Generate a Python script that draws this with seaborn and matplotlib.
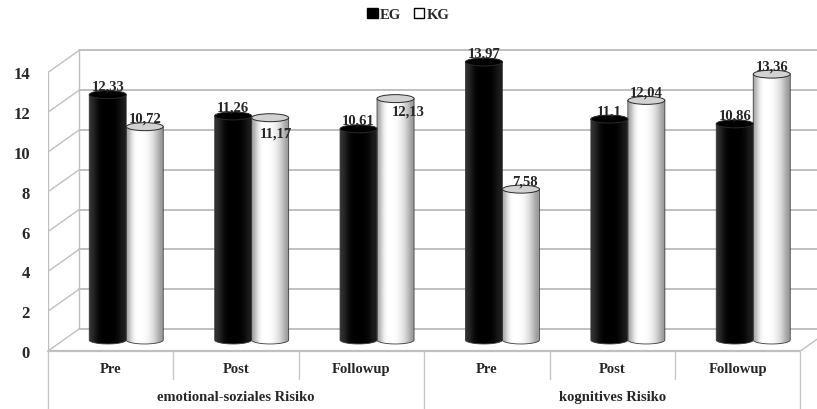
import numpy as np
import pandas as pd
import seaborn as sns
import matplotlib.pyplot as plt
from matplotlib.path import Path
from matplotlib.patches import PathPatch, Ellipse, Patch

sns.set_style("white")
plt.rcParams["font.family"] = ["Liberation Serif", "DejaVu Serif"]
plt.rcParams["font.weight"] = "bold"

# data
groups = ["emotional-soziales Risiko", "kognitives Risiko"]
phases = ["Pre", "Post", "Followup"]
eg = [12.33, 11.26, 10.61, 13.97, 11.1, 10.86]
kg = [10.72, 11.17, 12.13, 7.58, 12.04, 13.36]
yticks = [0, 2, 4, 6, 8, 10, 12, 14]

cats = [g + "|" + p for g in groups for p in phases]
df = pd.DataFrame({
    "cat": cats * 2,
    "val": eg + kg,
    "grp": ["EG"] * 6 + ["KG"] * 6,
})

# a few value labels sit off-centre in the original (points)
nudge = {7: (4, -17), 8: (9, -15), 9: (3, 0)}

fig = plt.figure(figsize=(8.17, 4.10), dpi=100)
ax = fig.add_axes([48 / 817, 58 / 410, 769 / 817, 312 / 410])

sns.barplot(data=df, x="cat", y="val", hue="grp", order=cats,
            palette={"EG": "black", "KG": "white"}, width=0.59, gap=0,
            legend=False, ax=ax)

# pseudo 3d depth (data units)
dx, dy = 0.124, 0.553
e = 0.2  # half height of the cylinder caps
wall = "#c0c0c0"

grad_eg = np.array([[0.2, 0.05, 0.0, 0.0, 0.0, 0.03, 0.12]])
grad_kg = np.array([[0.65, 0.92, 1.0, 1.0, 0.99, 0.95, 0.88, 0.76, 0.6]])

bars = [p for p in ax.patches if p.get_height() > 0]
for i, p in enumerate(bars):
    x, w, h = p.get_x(), p.get_width(), p.get_height()
    cx = x + w / 2
    black = p.get_facecolor()[0] < 0.5
    p.set_visible(False)
    t = np.linspace(np.pi, 2 * np.pi, 40)
    verts = [(x, h), (x, 0)] + list(zip(cx + w / 2 * np.cos(t), e * np.sin(t))) + [(x + w, h), (x, h)]
    body = Path(verts, closed=True)
    outline = PathPatch(body, facecolor="none", edgecolor="#3a3a3a", lw=0.6, zorder=4)
    ax.add_patch(outline)
    im = ax.imshow(grad_eg if black else grad_kg, extent=[x, x + w, -e, h],
                   aspect="auto", cmap="gray", vmin=0, vmax=1, zorder=3,
                   interpolation="bicubic")
    im.set_clip_path(outline)
    cap = Ellipse((cx, h), w, 2 * e, facecolor="black" if black else "#d2d2d2",
                  edgecolor="#2a2a2a", lw=0.7, zorder=5)
    ax.add_patch(cap)
    lab = ("%g" % h).replace(".", ",")
    ax.annotate(lab, (cx, h + e * 0.5), xytext=nudge.get(i, (0, 0)),
                textcoords="offset points", ha="center", va="bottom",
                fontsize=10.5, fontweight="bold", zorder=6)

# walls and floor
n = len(cats)
fl, fr = -0.5 - dx, n - 0.5 - dx
bl, br = -0.5 + dx, n - 0.5 + dx
for v in yticks:
    ax.plot([bl, br], [v + dy, v + dy], color=wall, lw=1.4, zorder=1)
    ax.plot([fl, bl], [v - dy, v + dy], color=wall, lw=1.0, zorder=1)
ax.plot([fl, fl], [-dy, yticks[-1] - dy], color=wall, lw=1.0, zorder=1)
ax.plot([bl, bl], [dy, yticks[-1] + dy], color=wall, lw=1.0, zorder=1)
ax.plot([fl, fr], [-dy, -dy], color=wall, lw=1.6, zorder=1, clip_on=False)
ax.plot([fr, br], [-dy, dy], color=wall, lw=1.0, zorder=1)

# category table below the floor
for k in range(n + 1):
    bottom = -3.6 if k % 3 == 0 else -1.96
    ax.plot([fl + k, fl + k], [-dy, bottom], color="#c8c8c8", lw=1.0, clip_on=False)
for k, c in enumerate(cats):
    ax.text(k - dx, -1.45, c.split("|")[1], ha="center", va="center",
            fontsize=10.5, fontweight="bold")
for j, g in enumerate(groups):
    ax.text(3 * j + 1 - dx, -2.86, g, ha="center", va="center",
            fontsize=10.5, fontweight="bold")

ax.set_xlim(fl, fl + 769 / 125.4)
ax.set_ylim(-dy, -dy + 312 / 19.9)
ax.set_yticks([v - dy for v in yticks])
ax.set_yticklabels([str(v) for v in yticks], fontsize=12, fontweight="bold")
ax.set_xticks([])
ax.tick_params(axis="y", length=0, pad=13)
ax.set_xlabel("")
ax.set_ylabel("")
for s in ax.spines.values():
    s.set_visible(False)
ax.grid(False)

fig.legend(handles=[Patch(facecolor="black", edgecolor="black"),
                    Patch(facecolor="white", edgecolor="black")],
           labels=["EG", "KG"], loc="center", bbox_to_anchor=(0.5, 0.963),
           ncol=2, frameon=False, handlelength=0.7, handleheight=0.7,
           handletextpad=0.15, columnspacing=0.9,
           prop={"weight": "bold", "size": 10.5})

fig.savefig("out.png", dpi=100)
